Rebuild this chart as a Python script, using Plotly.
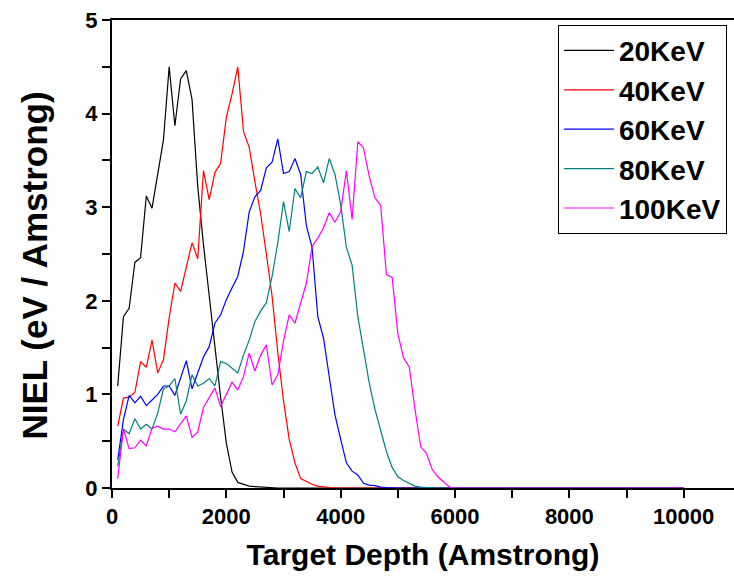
import plotly.graph_objects as go

depth = list(range(100, 10001, 100))

niel_20kev = [
    1.09, 1.83, 1.92, 2.41, 2.46, 3.12, 2.99, 3.36, 3.72, 4.50,
    3.87, 4.37, 4.46, 4.15, 3.22, 2.60, 2.05, 1.50, 0.97, 0.48,
    0.17, 0.06, 0.04, 0.02, 0.015, 0.01, 0.005, 0.003, 0.0, 0.0,
    0, 0, 0, 0, 0, 0, 0, 0, 0, 0,
    0, 0, 0, 0, 0, 0, 0, 0, 0, 0,
    0, 0, 0, 0, 0, 0, 0, 0, 0, 0,
    0, 0, 0, 0, 0, 0, 0, 0, 0, 0,
    0, 0, 0, 0, 0, 0, 0, 0, 0, 0,
    0, 0, 0, 0, 0, 0, 0, 0, 0, 0,
    0, 0, 0, 0, 0, 0, 0, 0, 0, 0,
]
niel_40kev = [
    0.66, 0.96, 0.97, 1.02, 1.35, 1.29, 1.58, 1.23, 1.37, 1.82,
    2.19, 2.10, 2.36, 2.62, 2.45, 3.39, 3.08, 3.37, 3.47, 3.96,
    4.21, 4.50, 3.81, 3.64, 3.27, 2.93, 2.50, 2.05, 1.45, 0.93,
    0.52, 0.27, 0.10, 0.07, 0.04, 0.02, 0.01, 0.005, 0.0, 0.0,
    0, 0, 0, 0, 0, 0, 0, 0, 0, 0,
    0, 0, 0, 0, 0, 0, 0, 0, 0, 0,
    0, 0, 0, 0, 0, 0, 0, 0, 0, 0,
    0, 0, 0, 0, 0, 0, 0, 0, 0, 0,
    0, 0, 0, 0, 0, 0, 0, 0, 0, 0,
    0, 0, 0, 0, 0, 0, 0, 0, 0, 0,
]
niel_60kev = [
    0.30, 0.73, 0.99, 0.91, 0.98, 0.88, 0.94, 1.00, 1.09, 1.09,
    0.99, 1.17, 1.36, 1.06, 1.23, 1.40, 1.51, 1.76, 1.85, 2.01,
    2.14, 2.26, 2.53, 2.95, 3.11, 3.18, 3.42, 3.48, 3.73, 3.36,
    3.38, 3.52, 3.35, 2.80, 2.57, 1.83, 1.60, 1.19, 0.78, 0.52,
    0.27, 0.18, 0.14, 0.05, 0.03, 0.025, 0.01, 0.005, 0.0, 0.0,
    0, 0, 0, 0, 0, 0, 0, 0, 0, 0,
    0, 0, 0, 0, 0, 0, 0, 0, 0, 0,
    0, 0, 0, 0, 0, 0, 0, 0, 0, 0,
    0, 0, 0, 0, 0, 0, 0, 0, 0, 0,
    0, 0, 0, 0, 0, 0, 0, 0, 0, 0,
]
niel_80kev = [
    0.23, 0.63, 0.58, 0.74, 0.63, 0.68, 0.63, 0.80, 1.06, 1.09,
    1.17, 0.79, 0.93, 1.21, 1.09, 1.12, 1.17, 1.09, 1.35, 1.33,
    1.28, 1.23, 1.42, 1.58, 1.78, 1.89, 1.98, 2.26, 2.62, 3.06,
    2.74, 3.20, 3.10, 3.38, 3.36, 3.43, 3.26, 3.52, 3.35, 3.03,
    2.57, 2.38, 1.83, 1.48, 1.12, 0.84, 0.62, 0.39, 0.22, 0.12,
    0.08, 0.05, 0.02, 0.01, 0.005, 0.0, 0, 0, 0, 0,
    0, 0, 0, 0, 0, 0, 0, 0, 0, 0,
    0, 0, 0, 0, 0, 0, 0, 0, 0, 0,
    0, 0, 0, 0, 0, 0, 0, 0, 0, 0,
    0, 0, 0, 0, 0, 0, 0, 0, 0, 0,
]
niel_100kev = [
    0.10, 0.63, 0.42, 0.43, 0.51, 0.45, 0.64, 0.66, 0.63, 0.63,
    0.60, 0.69, 0.77, 0.54, 0.60, 0.86, 0.96, 1.07, 0.87, 1.00,
    1.13, 1.05, 1.19, 1.44, 1.25, 1.42, 1.53, 1.10, 1.21, 1.57,
    1.85, 1.76, 1.98, 2.19, 2.58, 2.67, 2.78, 2.94, 2.84, 2.95,
    3.39, 2.87, 3.70, 3.63, 3.33, 3.10, 3.02, 2.28, 2.25, 1.65,
    1.39, 1.29, 0.84, 0.44, 0.37, 0.20, 0.12, 0.07, 0.01, 0.0,
    0, 0, 0, 0, 0, 0, 0, 0, 0, 0,
    0, 0, 0, 0, 0, 0, 0, 0, 0, 0,
    0, 0, 0, 0, 0, 0, 0, 0, 0, 0,
    0, 0, 0, 0, 0, 0, 0, 0, 0, 0,
]

series_names = ["20KeV", "40KeV", "60KeV", "80KeV", "100KeV"]
series_values = [niel_20kev, niel_40kev, niel_60kev, niel_80kev, niel_100kev]
series_colors = ["#000000", "#ff0000", "#0000ff", "#008080", "#ff00ff"]

x_title = "Target Depth (Amstrong)"
y_title = "NIEL (eV / Amstrong)"

FONT = "Arial, Liberation Sans, sans-serif"

fig = go.Figure()
for name, vals, col in zip(series_names, series_values, series_colors):
    fig.add_trace(go.Scatter(
        x=depth, y=vals, mode="lines", name=name,
        line=dict(color=col, width=1.2),
    ))

axis_common = dict(
    showline=True, linecolor="black", linewidth=2, mirror=True,
    ticks="outside", ticklen=8, tickwidth=2, tickcolor="black",
    showgrid=False, zeroline=False,
    tickfont=dict(family=FONT, size=22, color="black", weight="bold"),
)

fig.update_xaxes(
    range=[0, 10880], dtick=2000, tick0=0, tickformat="d",
    minor=dict(dtick=1000, ticks="outside", ticklen=8, tickwidth=2, tickcolor="black", showgrid=False),
    title=dict(text=x_title, font=dict(family=FONT, size=30, color="black", weight="bold"), standoff=16),
    **axis_common,
)
fig.update_yaxes(
    range=[0, 5], dtick=1, tick0=0, tickformat="d",
    minor=dict(dtick=0.5, ticks="outside", ticklen=8, tickwidth=2, tickcolor="black", showgrid=False),
    **axis_common,
)

# y-axis title placed as a rotated annotation to match its vertical offset
fig.add_annotation(
    text=y_title, textangle=-90, showarrow=False,
    xref="paper", yref="paper", x=-0.125, y=0.476,
    xanchor="center", yanchor="middle",
    font=dict(family=FONT, size=35, color="black", weight="bold"),
)

fig.update_layout(
    width=734, height=582,
    margin=dict(l=112, r=0, t=20, b=94, autoexpand=False),
    paper_bgcolor="white", plot_bgcolor="white",
    legend=dict(
        x=0.717, y=0.99, xanchor="left", yanchor="top",
        bgcolor="white", bordercolor="black", borderwidth=1,
        font=dict(family=FONT, size=28, color="black", weight="bold"),
        itemwidth=50, tracegroupgap=0,
    ),
)

fig.write_html("out.html")
